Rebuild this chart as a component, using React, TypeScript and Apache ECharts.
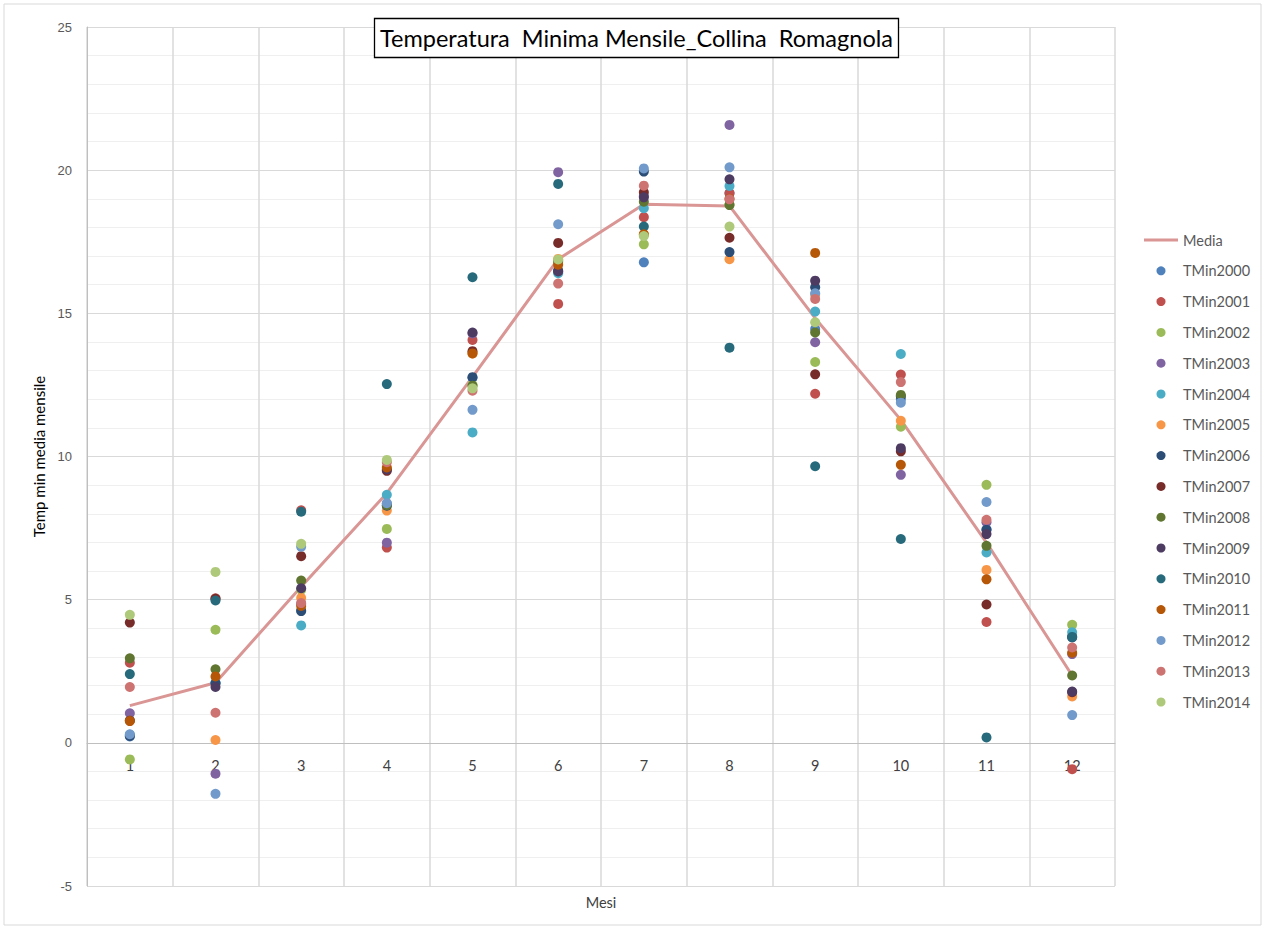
import React, { useEffect, useRef } from "react";
import * as echarts from "echarts";

const months = ["1", "2", "3", "4", "5", "6", "7", "8", "9", "10", "11", "12"];
const yTicks = [-5, 0, 5, 10, 15, 20, 25];

const media = [1.3, 2.1, 5.45, 8.72, 12.78, 16.89, 18.81, 18.75, 14.83, 11.28, 6.99, 2.35];

const tmin2000 = [0.22, 2.1, 4.62, 8.35, 12.75, 16.45, 16.78, 19.2, 14.45, 12.0, 7.45, 3.72];
const tmin2001 = [2.8, 5.05, 8.12, 6.82, 14.07, 15.33, 18.36, 19.19, 12.19, 12.86, 4.22, -0.92];
const tmin2002 = [-0.58, 3.95, 5.35, 7.47, 12.5, 16.85, 17.41, 18.8, 13.3, 11.04, 9.01, 4.12];
const tmin2003 = [1.03, -1.08, 4.85, 6.99, 14.3, 19.93, 19.1, 21.58, 13.99, 9.36, 7.7, 3.1];
const tmin2004 = [0.28, 2.08, 4.1, 8.66, 10.84, 16.4, 18.67, 19.45, 15.06, 13.58, 6.65, 3.86];
const tmin2005 = [0.78, 0.1, 5.06, 8.11, 13.6, 16.9, 17.75, 16.89, 15.65, 11.25, 6.04, 1.62];
const tmin2006 = [0.24, 2.08, 4.6, 8.28, 12.77, 16.5, 19.95, 17.14, 15.91, 12.1, 7.44, 3.68];
const tmin2007 = [4.2, 5.03, 6.52, 9.5, 13.68, 17.46, 19.23, 17.64, 12.87, 10.18, 4.83, 1.77];
const tmin2008 = [2.95, 2.57, 5.67, 8.3, 12.47, 16.8, 18.9, 18.78, 14.33, 12.15, 6.88, 2.35];
const tmin2009 = [0.78, 1.95, 5.4, 9.55, 14.33, 16.46, 19.05, 19.68, 16.14, 10.29, 7.29, 1.79];
const tmin2010 = [2.4, 4.97, 8.07, 12.53, 16.26, 19.52, 18.03, 13.8, 9.66, 7.12, 0.19, 3.7];
const tmin2011 = [0.76, 2.32, 4.78, 9.62, 13.6, 16.7, 17.76, 19.0, 17.11, 9.71, 5.71, 3.15];
const tmin2012 = [0.3, -1.78, 6.85, 8.37, 11.63, 18.11, 20.06, 20.1, 15.7, 11.88, 8.41, 0.97];
const tmin2013 = [1.95, 1.05, 4.88, 9.8, 12.3, 16.04, 19.46, 18.98, 15.5, 12.6, 7.79, 3.33];
const tmin2014 = [4.47, 5.97, 6.95, 9.88, 12.38, 16.88, 17.7, 18.03, 14.69, null, null, null];

const yearNames = [
  "TMin2000", "TMin2001", "TMin2002", "TMin2003", "TMin2004", "TMin2005", "TMin2006", "TMin2007",
  "TMin2008", "TMin2009", "TMin2010", "TMin2011", "TMin2012", "TMin2013", "TMin2014",
];
const yearData = [
  tmin2000, tmin2001, tmin2002, tmin2003, tmin2004, tmin2005, tmin2006, tmin2007,
  tmin2008, tmin2009, tmin2010, tmin2011, tmin2012, tmin2013, tmin2014,
];
const yearColors = [
  "#4F81BD", "#C0504D", "#9BBB59", "#8064A2", "#4BACC6", "#F79646", "#2C4D75", "#772C2A",
  "#5F7530", "#4D3B62", "#276A7C", "#B65708", "#729ACA", "#CD7371", "#AFC97A",
];

const FONT = "Lato";

export default function App() {
  const ref = useRef<HTMLDivElement>(null);
  useEffect(() => {
    if (!ref.current) return;
    const chart = echarts.init(ref.current, undefined, { renderer: "svg" });
    const scatterSeries = yearNames.map((name, i) => ({
      name,
      type: "scatter",
      data: yearData[i].map((v) => (v === null ? "-" : v)),
      symbol: "circle",
      symbolSize: 10,
      itemStyle: { color: yearColors[i], opacity: 1 },
      z: 3,
    }));
    chart.setOption({
      animation: false,
      backgroundColor: "#ffffff",
      textStyle: { fontFamily: FONT },
      title: {
        text: "Temperatura  Minima Mensile_Collina  Romagnola",
        left: 374,
        top: 18,
        padding: [8, 6, 8, 6],
        backgroundColor: "#ffffff",
        borderColor: "#000000",
        borderWidth: 1.3,
        textStyle: { fontFamily: FONT, fontSize: 23.5, fontWeight: "normal", color: "#000000" },
      },
      graphic: [
        {
          type: "rect",
          shape: { x: 4, y: 4, width: 1257, height: 921 },
          style: { fill: "none", stroke: "#D9D9D9", lineWidth: 1 },
          silent: true,
          z: -10,
        },
      ],
      legend: {
        orient: "vertical",
        left: 1139,
        top: 227,
        itemWidth: 34,
        itemHeight: 9,
        itemGap: 14.8,
        textStyle: { fontFamily: FONT, fontSize: 14.5, color: "#595959", lineHeight: 16 },
        data: [
          { name: "Media", icon: "path://M0,0 L37,0 L37,3 L0,3 Z" },
          ...yearNames.map((n) => ({ name: n, icon: "circle" })),
        ],
      },
      grid: { left: 87, top: 27, right: 151, bottom: 43, containLabel: false, outerBoundsMode: "none" },
      xAxis: {
        type: "category",
        data: months,
        boundaryGap: true,
        name: "Mesi",
        nameLocation: "middle",
        nameGap: 9,
        nameTextStyle: { fontFamily: FONT, fontSize: 14.5, color: "#404040" },
        axisLine: { show: true, onZero: true, lineStyle: { color: "#BFBFBF", width: 1 } },
        axisTick: { show: false },
        axisLabel: { fontFamily: FONT, fontSize: 14.5, color: "#404040", margin: -128 },
        splitLine: { show: true, lineStyle: { color: "#D9D9D9", width: 1.5 } },
      },
      yAxis: {
        type: "value",
        min: yTicks[0],
        max: yTicks[yTicks.length - 1],
        interval: 5,
        name: "Temp min media mensile",
        nameLocation: "middle",
        nameGap: 40,
        nameTextStyle: { fontFamily: FONT, fontSize: 15, color: "#000000" },
        axisLine: { show: true, lineStyle: { color: "#BFBFBF", width: 1 } },
        axisTick: { show: false },
        axisLabel: { fontFamily: "Liberation Sans", fontSize: 13, color: "#595959", margin: 15 },
        splitLine: { show: true, lineStyle: { color: "#D9D9D9", width: 1.2 } },
        minorTick: { show: false, splitNumber: 5 },
        minorSplitLine: { show: true, lineStyle: { color: "#EFEFEF", width: 1.2 } },
      },
      series: [
        {
          name: "Media",
          type: "line",
          data: media,
          symbol: "none",
          showSymbol: false,
          lineStyle: { color: "#D99694", width: 3 },
          itemStyle: { color: "#D99694" },
          z: 2,
        },
        ...scatterSeries,
      ],
    });
    return () => chart.dispose();
  }, []);
  return (
    <div
      ref={ref}
      style={{ position: "absolute", left: 0, top: 0, width: 1266, height: 929 }}
    />
  );
}
